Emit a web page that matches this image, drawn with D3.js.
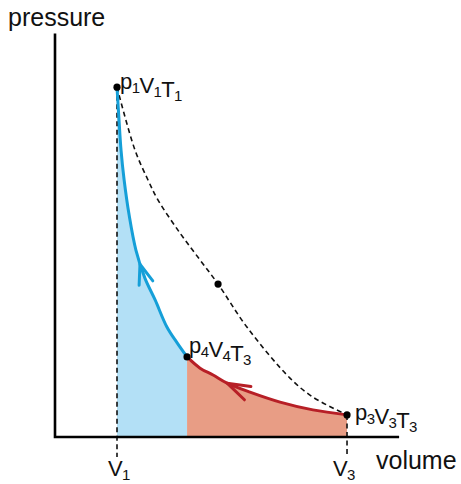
<!DOCTYPE html>
<html>
<head>
<meta charset="utf-8">
<script src="https://cdn.jsdelivr.net/npm/d3@7"></script>
<style>
  body { margin: 0; background: #fff; }
  svg text { font-family: "Liberation Sans", Arial, Helvetica, sans-serif; fill: #111; }
</style>
</head>
<body>
<svg id="chart" width="461" height="484"></svg>
<script>
// Adiabatic compression p4V4T3 -> p1V1T1 (volume, pressure)
const adiabatVolume   = [4.26, 3.94, 3.61, 3.23, 2.90, 2.61, 2.39, 2.23, 2.13, 2.065, 2.00];
const adiabatPressure = [2.57, 3.02, 3.53, 4.40, 5.10, 6.00, 7.13, 8.25, 9.21, 10.18, 11.23];

// Isothermal compression p3V3T3 -> p4V4T3
const isothermVolume   = [9.42, 8.32, 7.26, 6.29, 5.55, 5.10, 4.68, 4.26];
const isothermPressure = [0.71, 0.87, 1.12, 1.44, 1.73, 1.99, 2.21, 2.57];

// Reference path p1V1T1 -> p3V3T3 (dashed)
const refVolume   = [2.00, 2.58, 3.00, 3.32, 4.03, 4.68, 5.26, 6.19, 7.58, 8.32, 9.42];
const refPressure = [11.23, 9.21, 8.25, 7.61, 6.55, 5.68, 4.91, 3.53, 1.89, 1.28, 0.71];

// Labelled states
const stateVolume   = [2.00, 4.26, 9.42];
const statePressure = [11.23, 2.57, 0.71];
const stateLabels   = [
  [["p","1"],["V","1"],["T","1"]],
  [["p","4"],["V","4"],["T","3"]],
  [["p","3"],["V","3"],["T","3"]]
];
// Intermediate point on the dashed path
const midVolume = [5.26];
const midPressure = [4.91];

// Volume markers on the axis
const volumeTicks = [2.00, 9.42];
const volumeTickLabels = [["V","1"], ["V","3"]];

// Arrow positions (volume where the direction arrow sits)
const adiabatArrowAt = 2.74;
const isothermArrowAt = 5.55;

const axisTitles = { x: "volume", y: "pressure" };

const svg = d3.select("#chart");
const x = d3.scaleLinear().domain([0, 11]).range([55, 396]);
const y = d3.scaleLinear().domain([0, 13]).range([437, 32]);

const blueLine = "#159fd8", blueFill = "#b3e0f6";
const redLine = "#b71f26", redFill = "#e89d85";

const zip = (vs, ps) => vs.map((v, i) => [v, ps[i]]);
const adiabat = zip(adiabatVolume, adiabatPressure);
const isotherm = zip(isothermVolume, isothermPressure);
const ref = zip(refVolume, refPressure);

const curve = d3.curveCatmullRom.alpha(0.5);
const line = d3.line().x(d => x(d[0])).y(d => y(d[1])).curve(curve);
const area = d3.area().x(d => x(d[0])).y0(y(0)).y1(d => y(d[1])).curve(curve);

// Work areas under the two compression curves
svg.append("path").attr("d", area(adiabat)).attr("fill", blueFill);
svg.append("path").attr("d", area(isotherm)).attr("fill", redFill);

// Dashed drop lines from V1 and V3
volumeTicks.forEach((v, i) => {
  const p = i === 0 ? statePressure[0] : statePressure[2];
  svg.append("line")
    .attr("x1", x(v)).attr("x2", x(v))
    .attr("y1", y(p)).attr("y2", y(0) + 20)
    .attr("stroke", "#111").attr("stroke-width", 1.6)
    .attr("stroke-dasharray", "5,3.5");
});

// Dashed reference path
svg.append("path").attr("d", line(ref))
  .attr("fill", "none").attr("stroke", "#111")
  .attr("stroke-width", 1.6).attr("stroke-dasharray", "5,3.5");

// Process curves
const adiabatPath = svg.append("path").attr("d", line(adiabat))
  .attr("fill", "none").attr("stroke", blueLine).attr("stroke-width", 3);
const isothermPath = svg.append("path").attr("d", line(isotherm))
  .attr("fill", "none").attr("stroke", redLine).attr("stroke-width", 3);

// Chevron arrow placed on a path at a given volume, pointing along the path
function arrow(pathSel, vol, color, len, half) {
  const node = pathSel.node();
  const L = node.getTotalLength();
  const tx = x(vol);
  let best = 0, bestD = Infinity;
  for (let l = 0; l <= L; l += 0.5) {
    const pt = node.getPointAtLength(l);
    const d = Math.abs(pt.x - tx);
    if (d < bestD) { bestD = d; best = l; }
  }
  const a = node.getPointAtLength(best);
  const p0 = node.getPointAtLength(Math.max(0, best - 2));
  const p1 = node.getPointAtLength(Math.min(L, best + 2));
  const th = Math.atan2(p1.y - p0.y, p1.x - p0.x) + Math.PI;
  const arm = s => [a.x + len * Math.cos(th + s * half), a.y + len * Math.sin(th + s * half)];
  const l1 = arm(1), l2 = arm(-1);
  svg.append("path")
    .attr("d", `M${l1[0]},${l1[1]}L${a.x},${a.y}L${l2[0]},${l2[1]}`)
    .attr("fill", "none").attr("stroke", color).attr("stroke-width", 3)
    .attr("stroke-linecap", "round").attr("stroke-linejoin", "round");
}
arrow(adiabatPath, adiabatArrowAt, blueLine, 21, 20 * Math.PI / 180);
arrow(isothermPath, isothermArrowAt, redLine, 24, 18 * Math.PI / 180);

// Axes
svg.append("path")
  .attr("d", `M${x(0)},${y(12.95)}V${y(0)}H${x(11.1)}`)
  .attr("fill", "none").attr("stroke", "#000").attr("stroke-width", 2.6)
  .attr("stroke-linejoin", "miter");

svg.append("text").attr("x", 8).attr("y", 26)
  .attr("font-size", 25).text(axisTitles.y);
svg.append("text").attr("x", 376).attr("y", 469)
  .attr("font-size", 25).text(axisTitles.x);

// State points
svg.selectAll("circle.state")
  .data(stateVolume.map((v, i) => [v, statePressure[i]]).concat(zip(midVolume, midPressure)))
  .join("circle").attr("class", "state")
  .attr("cx", d => x(d[0])).attr("cy", d => y(d[1])).attr("r", 3.6)
  .attr("fill", "#000");

// Text with subscripts
function subText(px, py, parts) {
  const t = svg.append("text").attr("x", px).attr("y", py)
    .attr("font-size", 22).attr("letter-spacing", -0.6);
  parts.forEach(([main, sub]) => {
    t.append("tspan").text(main);
    t.append("tspan").attr("font-size", 15).attr("dy", 4).text(sub);
    t.append("tspan").attr("font-size", 22).attr("dy", -4).text("");
  });
}
const labelOffsets = [[3, 2], [2, -4], [8, 5]];
stateLabels.forEach((parts, i) => {
  subText(x(stateVolume[i]) + labelOffsets[i][0], y(statePressure[i]) + labelOffsets[i][1], parts);
});
volumeTicks.forEach((v, i) => {
  subText(x(v) - 9 - (i === 1 ? 5 : 0), 476, [volumeTickLabels[i]]);
});
</script>
</body>
</html>
